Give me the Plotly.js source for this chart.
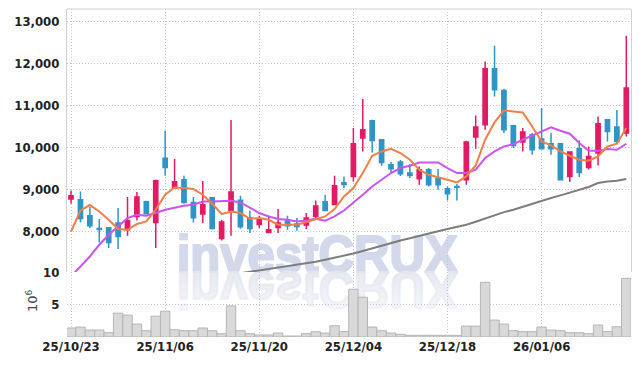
<!DOCTYPE html>
<html>
<head>
<meta charset="utf-8">
<script src="https://cdn.plot.ly/plotly-3.0.1.min.js"></script>
<style>html,body{margin:0;padding:0;background:#fff;}#chart{width:639px;height:366px;}</style>
</head>
<body>
<div id="chart"></div>
<script>
const dates = ['25/10/23','25/10/24','25/10/27','25/10/28','25/10/29','25/10/30','25/10/31','25/11/03','25/11/04','25/11/05',
'25/11/06','25/11/07','25/11/10','25/11/11','25/11/12','25/11/13','25/11/14','25/11/17','25/11/18','25/11/19',
'25/11/20','25/11/21','25/11/24','25/11/25','25/11/26','25/11/27','25/11/28','25/12/01','25/12/02','25/12/03',
'25/12/04','25/12/05','25/12/08','25/12/09','25/12/10','25/12/11','25/12/12','25/12/15','25/12/16','25/12/17',
'25/12/18','25/12/19','25/12/22','25/12/23','25/12/24','25/12/26','25/12/29','25/12/30','26/01/02','26/01/05',
'26/01/06','26/01/07','26/01/08','26/01/09','26/01/12','26/01/13','26/01/14','26/01/15','26/01/16','26/01/19'];

const openP = [8762,8745,8364,8060,8079,8190,8031,8348,8698,8205,
9736,9024,9221,8681,8405,8793,7824,8483,8736,8310,
8157,7967,8086,8269,8167,8143,8348,8698,8633,9150,
9300,10214,10626,10174,9579,9643,9381,9245,9460,9245,
9007,9060,9221,10238,10531,11864,11348,10507,10119,10293,
10190,10079,10079,9300,9960,9514,9857,10650,10476,10333];
const highP = [8967,8943,8571,8286,8085,8548,8810,8929,8720,9221,
10388,9714,9317,8810,9190,8810,8269,10643,8840,8483,
8364,8364,8524,8364,8310,8429,8729,8857,9317,9300,
10452,11143,10650,10174,9643,9690,9595,9538,9500,9476,
9062,9119,10150,10752,12038,12412,11381,10531,10452,10333,
10929,10333,10079,9895,10157,10014,10729,10650,10881,12650];
const lowP = [8650,8205,8071,7729,7595,7571,7888,8252,8400,7595,
9317,9000,8650,8205,8190,8040,7776,7888,8055,7952,
8071,7952,7952,8031,8007,8048,8310,8483,8619,9024,
9181,9895,9871,9555,9364,9310,9262,9102,9060,8983,
8729,8729,9102,9960,10412,11205,10333,9980,9895,9817,
9940,9817,9221,9167,9286,9467,9562,10133,10095,10252];
const closeP = [8840,8300,8126,8040,7729,7871,8252,8810,8412,9198,
9514,9174,8681,8317,8626,8062,8214,8929,8102,8062,
8269,8031,8190,8126,8110,8310,8595,8490,9079,9110,
10079,10412,10157,9633,9483,9364,9324,9460,9102,9102,
8888,9040,10119,10476,11864,11364,10412,10038,10357,9936,
9960,9960,9221,9881,9395,9776,10555,10371,10133,11405];

const ma5 = [7990,8490,8619,8467,8269,8048,8031,8167,8229,8507,
8864,9038,9024,9000,8864,8650,8405,8467,8429,8293,
8310,8269,8150,8143,8150,8214,8286,8348,8524,8824,
9024,9381,9793,9895,9960,9857,9698,9460,9340,9286,
9221,9157,9300,9562,10174,10586,10871,10848,10824,10490,
10133,10038,9895,9793,9698,9674,9776,10014,10079,10452];
const ma10 = [6920,7157,7395,7674,7912,8110,8310,8388,8364,8429,
8507,8555,8602,8626,8705,8705,8705,8721,8681,8548,
8429,8348,8286,8269,8229,8252,8293,8245,8348,8490,
8667,8864,9062,9221,9381,9500,9555,9633,9633,9633,
9500,9381,9381,9460,9738,9895,10014,10071,10174,10269,
10371,10467,10388,10317,10095,9912,9912,9952,9936,10079];
const maLong = [null,null,null,null,null,null,null,null,null,null,
null,null,null,null,null,null,null,null,6995,7030,
7063,7095,7127,7158,7190,7230,7270,7315,7360,7410,
7465,7525,7590,7655,7720,7775,7830,7890,7940,7995,
8050,8100,8150,8220,8300,8388,8450,8507,8580,8650,
8720,8786,8850,8919,8985,9048,9143,9181,9198,9238];

const volumeM = [1.38,1.53,1.07,1.07,0.66,3.67,3.37,1.99,0.97,3.21,
3.98,1.12,0.97,0.97,1.38,0.97,0.51,4.8,0.97,0.51,
0.31,0.31,0.61,0.15,0.15,0.51,0.82,0.61,1.73,0.82,
7.35,6.12,1.53,0.97,0.61,0.41,0.26,0.26,0.26,0.26,
0.26,0.26,1.68,1.68,8.42,2.6,1.99,0.97,0.82,0.82,
1.53,1.07,0.97,0.66,0.66,0.51,1.84,0.82,1.58,9.03];

const tickDates = ['25/10/23','25/11/06','25/11/20','25/12/04','25/12/18','26/01/06'];
const priceTicks = [8000,9000,10000,11000,12000,13000];
const volTicks = [5,10];
const volUnit = '10<sup>6</sup>';
const watermark = 'investCRUX';

const UP = '#e31a64', DOWN = '#2f94c6';
const tickFont = {family: '"DejaVu Sans Condensed", "Liberation Sans Narrow", sans-serif', size: 13, color: '#222', weight: 700};
const gridCol = '#c4c4d6';
const gridDash = '1px,2px';

const traces = [
  {type:'candlestick', x:dates, open:openP, high:highP, low:lowP, close:closeP, xaxis:'x', yaxis:'y',
   increasing:{line:{color:UP, width:1.5}, fillcolor:UP},
   decreasing:{line:{color:DOWN, width:1.5}, fillcolor:DOWN},
   whiskerwidth:0, hoverinfo:'skip', showlegend:false},
  {type:'scatter', mode:'lines', x:dates, y:maLong, line:{color:'#7d7d7d', width:2}, xaxis:'x', yaxis:'y', hoverinfo:'skip', showlegend:false},
  {type:'scatter', mode:'lines', x:dates, y:ma10, line:{color:'#c955ef', width:2}, xaxis:'x', yaxis:'y', hoverinfo:'skip', showlegend:false},
  {type:'scatter', mode:'lines', x:dates, y:ma5, line:{color:'#ee804a', width:2}, xaxis:'x', yaxis:'y', hoverinfo:'skip', showlegend:false},
  {type:'bar', x:dates, y:volumeM, xaxis:'x', yaxis:'y2', marker:{color:'#d9d9d9', line:{color:'#b5b5b5', width:1}}, hoverinfo:'skip', showlegend:false}
];

const wmText = (fill, stroke) => '<text x="6.7" y="46.7" font-family="Liberation Sans, Arial, Helvetica, sans-serif" font-weight="700" font-size="52" textLength="281" lengthAdjust="spacingAndGlyphs" fill="' + fill + '" stroke="' + stroke + '" stroke-width="2.2" stroke-linejoin="round">' + watermark + '</text>';
const wmSvg = '<svg xmlns="http://www.w3.org/2000/svg" width="300" height="95" viewBox="0 0 300 95">' +
 '<defs><linearGradient id="g" x1="0" y1="0" x2="0" y2="1">' +
 '<stop offset="0" stop-color="#e3e5ee" stop-opacity="0.2"/><stop offset="1" stop-color="#e3e5ee" stop-opacity="1"/></linearGradient></defs>' +
 wmText('#d3d9ea', '#d3d9ea') +
 '<g transform="translate(0,93.4) scale(1,-1)">' + wmText('url(#g)', 'url(#g)') + '</g>' +
 '</svg>';

const L = 67, R = 8, T = 9, B = 29, W = 639, H = 366;
const pw = W - L - R, ph = H - T - B;

const layout = {
  width: W, height: H,
  margin: {l:L, r:R, t:T, b:B},
  paper_bgcolor: '#ffffff', plot_bgcolor: 'rgba(0,0,0,0)',
  showlegend: false,
  boxgap: 0.36,
  bargap: 0,
  xaxis: {type:'category', anchor:'y2', range:[-0.43, 59.5], rangeslider:{visible:false},
          tickvals: tickDates, ticktext: tickDates, tickfont: tickFont,
          showgrid:true, gridcolor:gridCol, griddash:gridDash, gridwidth:1,
          ticks:'', showline:false, zeroline:false, fixedrange:true},
  yaxis: {domain:[0.198, 1], range:[7024, 13286], tickvals: priceTicks, tickformat:',d', tickfont: tickFont,
          showgrid:true, gridcolor:gridCol, griddash:gridDash, gridwidth:1,
          showline:true, linecolor:'#d2d2d2', linewidth:1, mirror:true,
          ticks:'outside', ticklen:4, tickcolor:'rgba(0,0,0,0)', zeroline:false},
  yaxis2: {domain:[0, 0.198], range:[0, 10], tickvals: volTicks, tickfont: tickFont,
          showgrid:true, gridcolor:gridCol, griddash:gridDash, gridwidth:1,
          ticks:'outside', ticklen:4, tickcolor:'rgba(0,0,0,0)', zeroline:false, showline:false},
  annotations: [
    {text: volUnit, xref:'paper', yref:'paper', x:(32 - L)/pw, y:(H - B - 301)/ph, showarrow:false, textangle:-90,
     xanchor:'center', yanchor:'middle', font:{family:'"DejaVu Sans", sans-serif', size:13, color:'#444'}}
  ],
  shapes: [
    {type:'line', xref:'paper', yref:'paper', x0:0, x1:1, y0:1, y1:1, line:{color:'#d2d2d2', width:1}}
  ],
  images: [{
    source: 'data:image/svg+xml;charset=utf-8,' + encodeURIComponent(wmSvg),
    xref:'paper', yref:'paper',
    x: (170 - L)/pw, y: (H - B - 225)/ph,
    sizex: 300/pw, sizey: 95/ph,
    xanchor:'left', yanchor:'top', sizing:'stretch', layer:'below'
  }]
};

Plotly.newPlot('chart', traces, layout, {displayModeBar:false, staticPlot:true});
</script>
</body>
</html>
